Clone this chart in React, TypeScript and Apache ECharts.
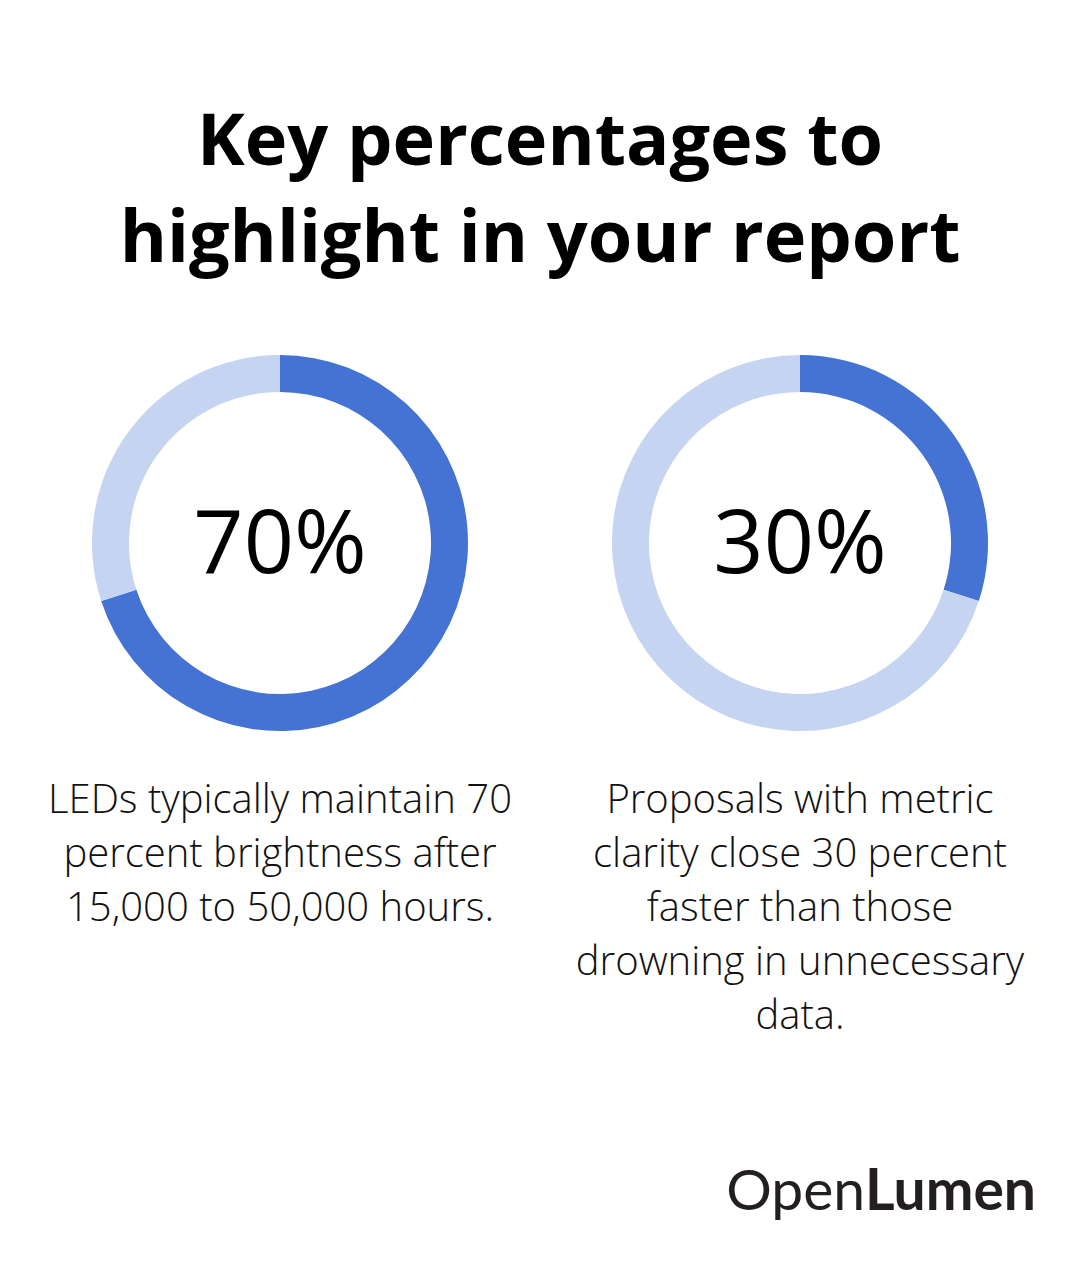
import React, { useEffect, useRef } from "react";
import * as echarts from "echarts";

const titleLines = ["Key percentages to", "highlight in your report"];
const percentages = [70, 30];
const centerLabels = ["70%", "30%"];
const descriptions = [
  ["LEDs typically maintain 70", "percent brightness after", "15,000 to 50,000 hours."],
  ["Proposals with metric", "clarity close 30 percent", "faster than those", "drowning in unnecessary", "data."],
];
const logoParts = ["Open", "Lumen"];

const DARK = "#4473D3";
const LIGHT = "#C5D5F1";

export default function App() {
  const ref = useRef<HTMLDivElement>(null);
  useEffect(() => {
    const el = ref.current!;
    const chart = echarts.init(el, null, { renderer: "svg" });
    const centersX = [280, 800];
    const cy = 543;

    const series: any[] = percentages.map((p, i) => ({
      type: "pie",
      radius: [151, 188],
      center: [centersX[i], cy],
      startAngle: 90,
      clockwise: true,
      silent: true,
      label: { show: false },
      labelLine: { show: false },
      data: [
        { value: p, itemStyle: { color: DARK } },
        { value: 100 - p, itemStyle: { color: LIGHT } },
      ],
    }));

    const graphics: any[] = [];
    titleLines.forEach((t, i) => {
      graphics.push({
        type: "text",
        x: 540,
        y: 137 + i * 97,
        style: {
          text: t,
          fontFamily: "Open Sans",
          fontWeight: "bold",
          fontSize: 72,
          fill: "#000",
          align: "center",
          verticalAlign: "middle",
        },
      });
    });
    centerLabels.forEach((t, i) => {
      graphics.push({
        type: "text",
        x: centersX[i],
        y: 539,
        style: {
          text: t,
          fontFamily: "Open Sans",
          fontWeight: 500,
          fontSize: 88,
          fill: "#000",
          align: "center",
          verticalAlign: "middle",
        },
      });
    });
    descriptions.forEach((lines, i) => {
      lines.forEach((t, j) => {
        graphics.push({
          type: "text",
          x: centersX[i],
          y: 797 + j * 54,
          style: {
            text: t,
            fontFamily: "Open Sans",
            fontWeight: 300,
            fontSize: 40,
            fill: "#111",
            align: "center",
            verticalAlign: "middle",
          },
        });
      });
    });
    graphics.push({
      type: "text",
      x: 1036,
      y: 1188,
      style: {
        text: `{a|${logoParts[0]}}{b|${logoParts[1]}}`,
        align: "right",
        verticalAlign: "middle",
        rich: {
          a: { fontFamily: "Lato", fontWeight: 400, fontSize: 57, fill: "#231f20" },
          b: { fontFamily: "Lato", fontWeight: "bold", fontSize: 57, fill: "#231f20" },
        },
      },
    });

    chart.setOption({
      animation: false,
      backgroundColor: "#fff",
      series,
      graphic: graphics,
    });
    return () => chart.dispose();
  }, []);
  return (
    <div
      ref={ref}
      style={{ position: "fixed", left: 0, top: 0, width: 1080, height: 1272 }}
    />
  );
}
